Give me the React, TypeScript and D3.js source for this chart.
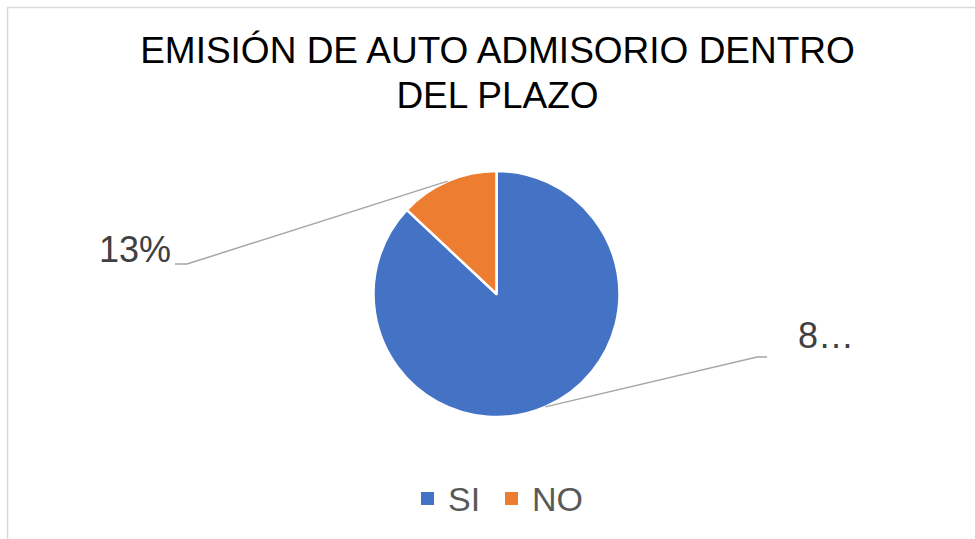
import React from "react";
import * as d3 from "d3";

const categories = ["SI", "NO"];
const values = [87, 13];
const colors = ["#4472C4", "#ED7D31"];
const titleLines = ["EMISIÓN DE AUTO ADMISORIO DENTRO", "DEL PLAZO"];
const dataLabels = ["8…", "13%"];

const W = 975;
const H = 539;
const cx = 496.5;
const cy = 294;
const R = 123;

export default function App() {
  const pie = d3.pie<number>().sort(null).value((d) => d)(values);
  const arc = d3.arc<d3.PieArcDatum<number>>().innerRadius(0).outerRadius(R);

  // label layout (elbow + text anchor) per slice
  const labelLayout = [
    { elbowX: 757, elbowY: 357, endX: 767, textX: 798, textY: 348, anchor: "start" },
    { elbowX: 187, elbowY: 264, endX: 175, textX: 171, textY: 262, anchor: "end" },
  ];

  const font = "'Liberation Sans', Arial, sans-serif";

  return (
    <svg
      width={W}
      height={H}
      style={{ position: "absolute", left: 0, top: 0, background: "#fff" }}
    >
      <rect x={7.5} y={7.5} width={W} height={H} fill="#fff" stroke="#d9d9d9" strokeWidth={1.5} />
      <g fontFamily={font} fill="#000" fontSize={37} textAnchor="middle">
        {titleLines.map((t, i) => (
          <text key={i} x={497.5} y={63 + i * 45}>
            {t}
          </text>
        ))}
      </g>
      <g transform={`translate(${cx},${cy})`}>
        {pie.map((p, i) => (
          <path key={i} d={arc(p) || ""} fill={colors[i]} stroke="#fff" strokeWidth={2.5} strokeLinejoin="round" />
        ))}
      </g>
      {pie.map((p, i) => {
        const a = (p.startAngle + p.endAngle) / 2;
        const sx = cx + R * Math.sin(a);
        const sy = cy - R * Math.cos(a);
        const L = labelLayout[i];
        return (
          <g key={i}>
            <polyline
              points={`${sx},${sy} ${L.elbowX},${L.elbowY} ${L.endX},${L.elbowY}`}
              fill="none"
              stroke="#a6a6a6"
              strokeWidth={1.5}
            />
            <text
              x={L.textX}
              y={L.textY}
              fontFamily={font}
              fontSize={36}
              fill="#404040"
              textAnchor={L.anchor as any}
            >
              {dataLabels[i]}
            </text>
          </g>
        );
      })}
      <g fontFamily={font} fontSize={34} fill="#595959">
        {categories.map((c, i) => {
          const x0 = [421, 505][i];
          return (
            <g key={c}>
              <rect x={x0} y={492} width={13} height={13} fill={colors[i]} />
              <text x={x0 + 27} y={511}>
                {c}
              </text>
            </g>
          );
        })}
      </g>
    </svg>
  );
}
